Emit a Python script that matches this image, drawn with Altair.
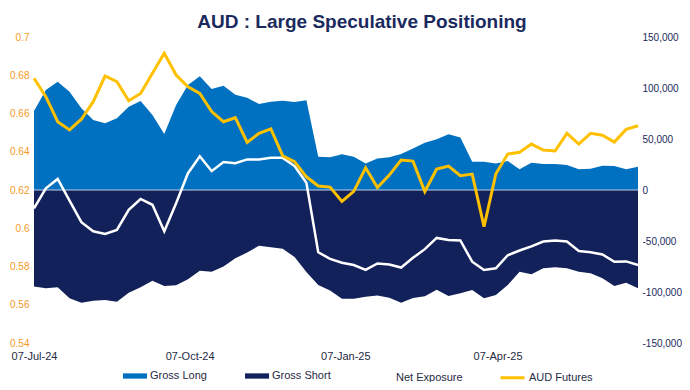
import altair as alt
import pandas as pd

# ---- data ----
dates = list(pd.date_range("2024-07-07", periods=52, freq="7D").strftime("%Y-%m-%d"))

gross_long = [77450, 98000, 106200, 96400, 80100, 68600, 65400, 70300, 81700, 87300,
              73500, 54900, 83300, 102900, 111500, 99000, 102200, 93500, 90500, 84300,
              86600, 87600, 86300, 87900, 32700, 32000, 35000, 32700, 26100, 31000,
              32000, 35300, 40800, 46400, 49700, 54700, 51400, 27800, 27800, 26100,
              28400, 20300, 26800, 25500, 25500, 24500, 20300, 20900, 23800, 23500,
              20300, 22800]

gross_short = [-94500, -96400, -95400, -106200, -110500, -108500, -107800, -109500, -100700, -95400,
               -88900, -94100, -93500, -87600, -79100, -80100, -75000, -67000, -61300, -54600,
               -56200, -57500, -65700, -80400, -93200, -98500, -106500, -106500, -104600, -103400,
               -105700, -110500, -105900, -104100, -97700, -103800, -101300, -98000, -106200, -102900,
               -93100, -80100, -82700, -76800, -75800, -76800, -80100, -81700, -86600, -94100,
               -90900, -96400]

net_exposure = [-18000, 1600, 10800, -10500, -31500, -40500, -43000, -39200, -19500, -8800,
                -14500, -40500, -13000, 16500, 33000, 18500, 27500, 26200, 30000, 30000,
                31500, 31500, 23500, 7000, -61000, -67500, -71300, -73600, -78400, -72000,
                -73000, -76000, -66500, -58000, -47000, -49000, -49500, -70300, -78400, -76800,
                -64000, -59300, -55300, -50500, -49500, -50500, -59800, -61000, -63200, -70400,
                -70000, -73500]

aud_futures = [0.6784, 0.6688, 0.6557, 0.6514, 0.6570, 0.6662, 0.6796, 0.6766, 0.6667, 0.6705,
               0.6810, 0.6915, 0.6801, 0.6740, 0.6705, 0.6610, 0.6557, 0.6578, 0.6449, 0.6496,
               0.6520, 0.6378, 0.6348, 0.6269, 0.6221, 0.6215, 0.6140, 0.6193, 0.6316, 0.6213,
               0.6278, 0.6357, 0.6351, 0.6192, 0.6310, 0.6325, 0.6275, 0.6283, 0.6008, 0.6285,
               0.6388, 0.6397, 0.6440, 0.6409, 0.6404, 0.6496, 0.6440, 0.6496, 0.6486, 0.6451,
               0.6517, 0.6536]

left_ticks = [0.54, 0.56, 0.58, 0.60, 0.62, 0.64, 0.66, 0.68, 0.70]
right_ticks = [-150000, -100000, -50000, 0, 50000, 100000, 150000]
x_tick_dates = [(2024, 7, 7), (2024, 10, 7), (2025, 1, 7), (2025, 4, 7)]

area_series = ["Gross Long", "Gross Short"]
area_colors = ["#0070C0", "#13215A"]
line_series = ["Net Exposure", "AUD Futures"]
line_colors = ["#FFFFFF", "#FFC000"]

FONT = "Liberation Sans"
NAVY = "#1B2A5E"
ORANGE = "#F59A23"

# ---- tables ----
pos = pd.DataFrame({
    "date": dates * 2,
    "value": gross_long + gross_short,
    "series": ["Gross Long"] * len(dates) + ["Gross Short"] * len(dates),
})
net = pd.DataFrame({"date": dates, "value": net_exposure, "series": "Net Exposure"})
fut = pd.DataFrame({"date": dates, "value": aud_futures, "series": "AUD Futures"})
zero = pd.DataFrame({"value": [0]})


def dt(y, m, d):
    return alt.DateTime(year=y, month=m, date=d, utc=True)


x_scale = alt.Scale(type="utc", domain=[dt(2024, 7, 7), dt(2025, 6, 29)])
x_axis = alt.Axis(values=[dt(*t) for t in x_tick_dates], format="%d-%b-%y", title=None,
                  ticks=False, domain=False, grid=False, labelFlush=False, labelBound=False,
                  labelFont=FONT, labelFontSize=11, labelColor="#1F2A44", labelPadding=7,
                  labelOverlap=False)
x_enc = alt.X("date:T", scale=x_scale, axis=x_axis)

right_scale = alt.Scale(domain=[-150000, 150000], nice=False, zero=False)
right_axis = alt.Axis(orient="right", values=right_ticks, title=None, ticks=False, domain=False,
                      grid=False, labelFont=FONT, labelFontSize=10, labelColor=NAVY, labelPadding=4,
                      labelOverlap=False,
                      labelExpr="datum.value < 0 ? '-' + format(-datum.value, ',') : format(datum.value, ',')")

left_scale = alt.Scale(domain=[0.54, 0.70], nice=False, zero=False)
left_axis = alt.Axis(orient="left", values=left_ticks, title=None, ticks=False, domain=False,
                     grid=False, labelFont=FONT, labelFontSize=10, labelColor=ORANGE, labelPadding=5,
                     labelOverlap=False, format=".2~f")

fill_legend = alt.Legend(title=None, orient="none", direction="horizontal", legendX=89, legendY=327,
                         symbolType="M-1,-0.22H1V0.22H-1Z", symbolSize=576, symbolStrokeWidth=0,
                         labelFont=FONT, labelFontSize=11, labelColor="#1F2A44", labelOffset=3,
                         columnPadding=38)
stroke_legend = alt.Legend(title=None, orient="none", direction="horizontal", legendX=332, legendY=327,
                           symbolType="stroke", symbolSize=576, symbolStrokeWidth=3,
                           labelFont=FONT, labelFontSize=11, labelColor="#1F2A44", labelOffset=3,
                           columnPadding=31)
stroke_scale = alt.Scale(domain=line_series, range=line_colors)

areas = alt.Chart(pos).mark_area(opacity=1, interpolate="linear").encode(
    x=x_enc,
    y=alt.Y("value:Q", scale=right_scale, axis=right_axis),
    y2=alt.datum(0),
    fill=alt.Fill("series:N", scale=alt.Scale(domain=area_series, range=area_colors), legend=fill_legend),
)

zero_rule = alt.Chart(zero).mark_rule(color="#C5D0E2", strokeWidth=1).encode(
    y=alt.Y("value:Q", scale=right_scale, axis=right_axis),
)

net_line = alt.Chart(net).mark_line(strokeWidth=2.5).encode(
    x=x_enc,
    y=alt.Y("value:Q", scale=right_scale, axis=right_axis),
    stroke=alt.Stroke("series:N", scale=stroke_scale, legend=stroke_legend),
)

fut_line = alt.Chart(fut).mark_line(strokeWidth=3).encode(
    x=x_enc,
    y=alt.Y("value:Q", scale=left_scale, axis=left_axis),
    stroke=alt.Stroke("series:N", scale=stroke_scale, legend=stroke_legend),
)

right_layer = alt.layer(areas, zero_rule, net_line)

chart = alt.layer(right_layer, fut_line).resolve_scale(y="independent").properties(
    width=604,
    height=306,
    padding={"left": 26, "top": 29, "right": 44, "bottom": 39},
    autosize=alt.AutoSizeParams(type="none"),
    title=alt.TitleParams("AUD : Large Speculative Positioning", font=FONT, fontSize=19,
                          fontWeight="bold", color=NAVY, anchor="middle", dx=26, offset=0),
    background="white",
).configure_view(strokeWidth=0)

chart.save("out.html", embed_options={"renderer": "svg", "actions": False})
